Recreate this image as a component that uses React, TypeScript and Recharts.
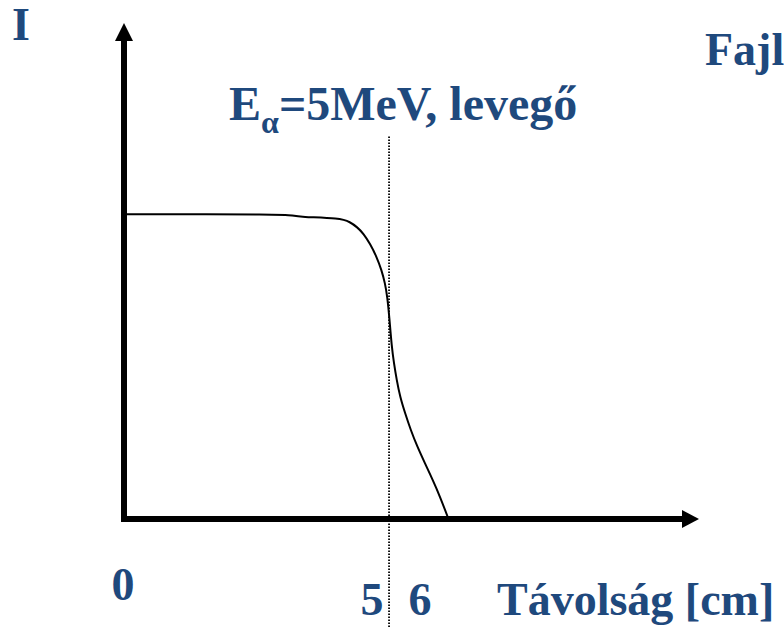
import React from "react";
import { ComposedChart, Line, XAxis, YAxis, ReferenceLine } from "recharts";

// distance [cm]
const distance = [0, 3.23, 3.37, 3.53, 4.34, 4.54, 4.68, 4.81, 4.94, 5.07, 5.17, 5.24, 5.285, 5.325, 5.373, 5.419, 5.474, 5.541, 5.642, 5.755, 5.887, 6.042, 6.196, 6.343, 6.513];
// intensity (relative)
const intensity = [1.02, 1.02, 1.016, 1.011, 1.007, 0.994, 0.977, 0.955, 0.921, 0.878, 0.833, 0.789, 0.744, 0.677, 0.577, 0.521, 0.465, 0.409, 0.354, 0.298, 0.242, 0.186, 0.131, 0.075, 0];
const xTicks = [0, 5, 6];
const rangeMark = 5.32;

const data = distance.map((d, i) => ({ d, I: intensity[i] }));

const BLUE = "#1F497D";
const FONT = "'Liberation Serif', 'Times New Roman', serif";

const Tick = (props: any) => {
  const { x, payload } = props;
  const v = payload.value;
  return (
    <text
      x={x}
      y={v === 0 ? 600 : 615}
      dx={v === 6 ? -3 : -1}
      textAnchor="middle"
      fontFamily={FONT}
      fontWeight="bold"
      fontSize={46}
      fill={BLUE}
    >
      {String(v)}
    </text>
  );
};

export default function App() {
  return (
    <div style={{ position: "absolute", left: 0, top: 0, width: 784, height: 628, background: "#fff" }}>
      <svg width={0} height={0} style={{ position: "absolute" }}>
        <defs>
          <marker id="arrX" markerUnits="userSpaceOnUse" markerWidth={17} markerHeight={18} refX={0} refY={9} orient="auto-start-reverse" viewBox="0 0 17 18">
            <path d="M0,0 L17,9 L0,18 z" fill="#000" />
          </marker>
          <marker id="arrY" markerUnits="userSpaceOnUse" markerWidth={18} markerHeight={18} refX={0} refY={9} orient="auto-start-reverse" viewBox="0 0 18 18">
            <path d="M0,0 L18,9 L0,18 z" fill="#000" />
          </marker>
        </defs>
      </svg>
      <ComposedChart width={784} height={628} data={data} margin={{ top: 41, right: 102, bottom: 49, left: 114 }}>
        <XAxis
          dataKey="d"
          type="number"
          domain={[0, 11.2]}
          ticks={xTicks}
          allowDataOverflow
          height={60}
          tickLine={false}
          tick={<Tick />}
          axisLine={{ stroke: "#000", strokeWidth: 6, strokeLinecap: "square", markerEnd: "url(#arrX)" } as any}
        />
        <YAxis
          type="number"
          domain={[0, 1.6]}
          width={10}
          tick={false}
          tickLine={false}
          allowDataOverflow
          axisLine={{ stroke: "#000", strokeWidth: 6, strokeLinecap: "square", markerStart: "url(#arrY)" } as any}
        />
        <ReferenceLine
          segment={[{ x: rangeMark, y: 1.28 }, { x: rangeMark, y: -0.37 }]}
          stroke="#000"
          strokeWidth={1.8}
          strokeDasharray="1.5 1.5"
          ifOverflow="visible"
        />
        <Line dataKey="I" type="basis" stroke="#000" strokeWidth={2} dot={false} isAnimationActive={false} />
      </ComposedChart>
      <svg width={784} height={628} style={{ position: "absolute", left: 0, top: 0, pointerEvents: "none" }}>
        <g fontFamily={FONT} fontWeight="bold" fill={BLUE} fontSize={46}>
          <text x={12} y={40}>I</text>
          <text x={705} y={65}>Fajl</text>
          <text x={229} y={120} fontSize={48}>
            E<tspan fontSize={32} dy={13}>α</tspan>
            <tspan dy={-13}>=5MeV, levegő</tspan>
          </text>
          <text x={497} y={615}>Távolság [cm]</text>
        </g>
      </svg>
    </div>
  );
}
